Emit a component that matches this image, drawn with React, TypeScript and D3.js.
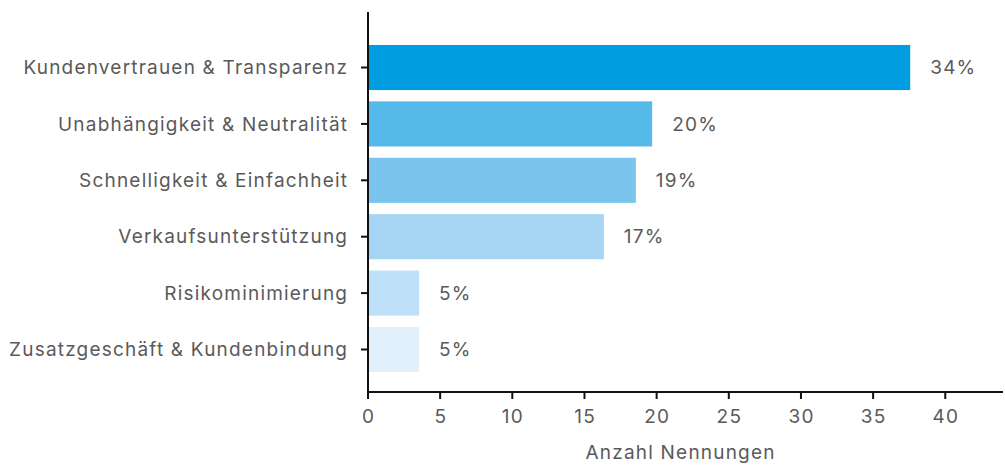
import React from "react";
import * as d3 from "d3";

const categories = [
  "Kundenvertrauen & Transparenz",
  "Unabhängigkeit & Neutralität",
  "Schnelligkeit & Einfachheit",
  "Verkaufsunterstützung",
  "Risikominimierung",
  "Zusatzgeschäft & Kundenbindung",
];
const values = [37.57, 19.69, 18.56, 16.34, 3.54, 3.54];
const percentLabels = ["34%", "20%", "19%", "17%", "5%", "5%"];
const barColors = ["#009ee0", "#55b9ea", "#7ac4ee", "#a5d5f3", "#bee0f8", "#e1f0fb"];
const xTicks = [0, 5, 10, 15, 20, 25, 30, 35, 40];
const xTitle = "Anzahl Nennungen";

const W = 1005;
const H = 465;
const FONT = "Inter, 'Noto Sans', sans-serif";
const TEXT = "#5a5a5a";
const FS = 19;
const LS = 1.2;

export default function App() {
  const x = d3.scaleLinear().domain([0, 44]).range([368, 1003]);
  const y = d3
    .scaleBand<string>()
    .domain(categories)
    .range([22.4, 394.6])
    .paddingInner(0.2)
    .paddingOuter(0.4);
  const axisY = 392;
  const txt = { fontSize: FS, fill: TEXT, letterSpacing: LS } as const;
  return (
    <svg
      width={W}
      height={H}
      style={{ position: "absolute", left: 0, top: 0 }}
      fontFamily={FONT}
    >
      {categories.map((c, i) => (
        <g key={c}>
          <rect
            x={x(0)}
            y={y(c)}
            width={x(values[i]) - x(0)}
            height={y.bandwidth()}
            fill={barColors[i]}
          />
          <text
            x={x(values[i]) + 20}
            y={(y(c) as number) + y.bandwidth() / 2}
            dy="0.35em"
            {...txt}
          >
            {percentLabels[i]}
          </text>
          <line
            x1={x(0) - 7}
            x2={x(0)}
            y1={(y(c) as number) + y.bandwidth() / 2}
            y2={(y(c) as number) + y.bandwidth() / 2}
            stroke="#111"
            strokeWidth={2}
          />
          <text
            x={x(0) - 21 + LS}
            y={(y(c) as number) + y.bandwidth() / 2}
            dy="0.35em"
            textAnchor="end"
            {...txt}
          >
            {c}
          </text>
        </g>
      ))}
      <line x1={x(0)} x2={x(0)} y1={12} y2={axisY + 1} stroke="#111" strokeWidth={2} />
      <line x1={x(0) - 1} x2={x(44)} y1={axisY} y2={axisY} stroke="#111" strokeWidth={2} />
      {xTicks.map((t) => (
        <g key={t}>
          <line x1={x(t)} x2={x(t)} y1={axisY} y2={axisY + 7} stroke="#111" strokeWidth={2} />
          <text
            x={x(t) + LS / 2}
            y={axisY + 24}
            dy="0.35em"
            textAnchor="middle"
            {...txt}
          >
            {t}
          </text>
        </g>
      ))}
      <text x={680 + LS / 2} y={452} dy="0.35em" textAnchor="middle" {...txt}>
        {xTitle}
      </text>
    </svg>
  );
}
